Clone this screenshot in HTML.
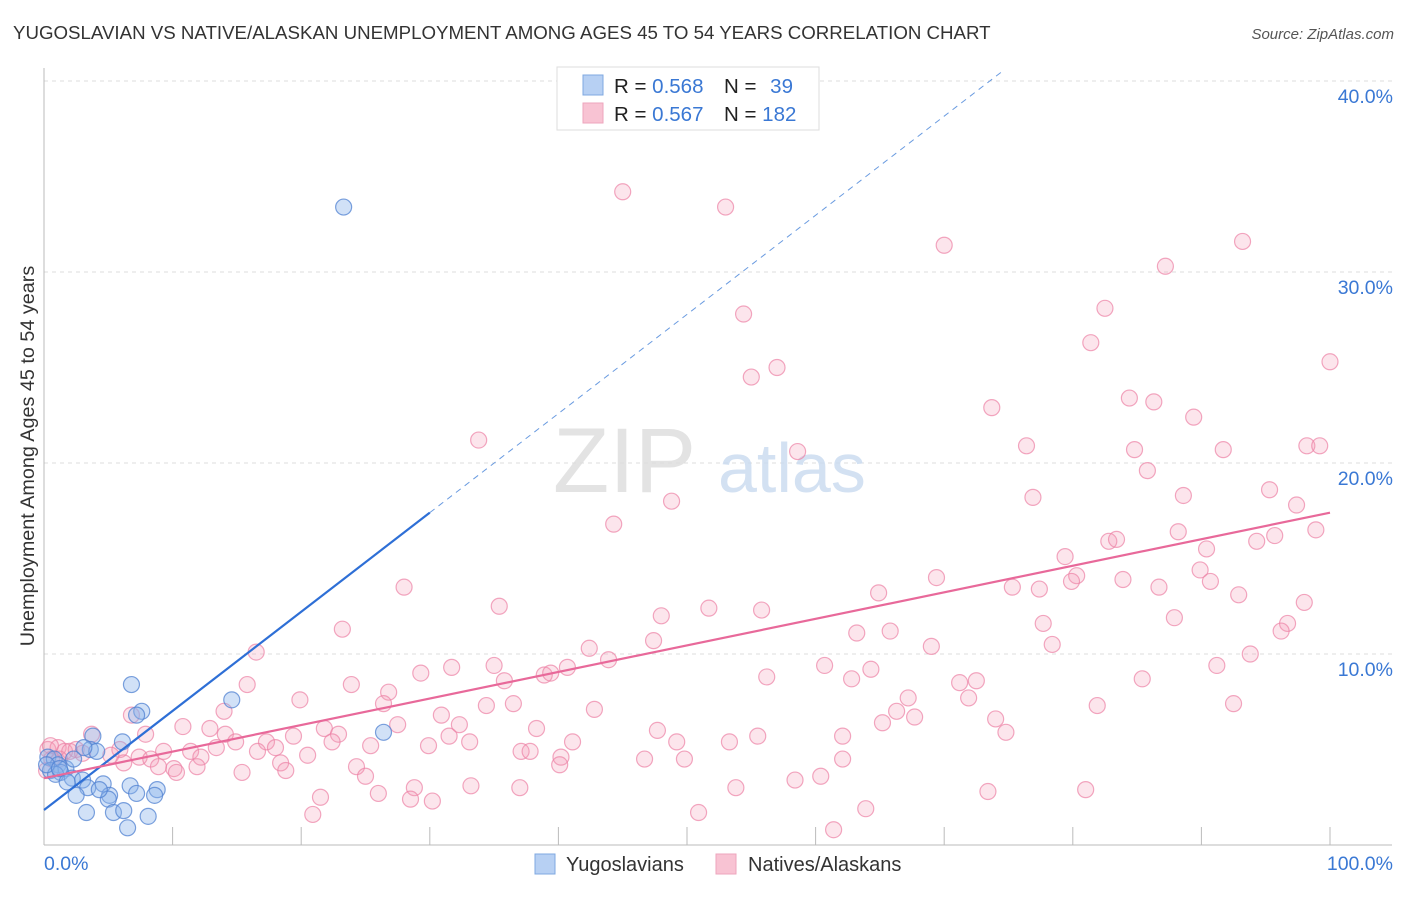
<!DOCTYPE html>
<html><head><meta charset="utf-8"><style>
body{margin:0;background:#fff;font-family:"Liberation Sans",sans-serif}
svg text{font-family:"Liberation Sans",sans-serif}
</style></head><body>
<svg id="chart" width="1406" height="892" xmlns="http://www.w3.org/2000/svg">
<text x="13" y="39" font-size="18.7" fill="#333">YUGOSLAVIAN VS NATIVE/ALASKAN UNEMPLOYMENT AMONG AGES 45 TO 54 YEARS CORRELATION CHART</text>
<text x="1394" y="39" font-size="15" fill="#555" text-anchor="end" font-style="italic">Source: ZipAtlas.com</text>
<g id="grid"></g>
<text x="553" y="492" font-size="92" fill="#ddd" font-family="Liberation Serif" opacity="0.8">ZIP</text>
<text x="718" y="492" font-size="70" fill="#c9daf0" opacity="0.8">atlas</text>
<g id="points"></g>
<g id="lines"></g>
<text transform="translate(34,456) rotate(-90)" font-size="19.8" fill="#333" text-anchor="middle">Unemployment Among Ages 45 to 54 years</text>
<g>
<rect x="557" y="67" width="262" height="63" fill="#fff" stroke="#ddd"/>
<rect x="583" y="75" width="20" height="20" fill="#b7d0f3" stroke="#7fa8e0"/>
<rect x="583" y="103" width="20" height="20" fill="#f8c3d3" stroke="#eea6bd"/>
<text x="614" y="93" font-size="20.5" fill="#222">R = <tspan fill="#3a78d4">0.568</tspan></text>
<text x="724" y="93" font-size="20.5" fill="#222">N = <tspan fill="#3a78d4" dx="8">39</tspan></text>
<text x="614" y="121" font-size="20.5" fill="#222">R = <tspan fill="#3a78d4">0.567</tspan></text>
<text x="724" y="121" font-size="20.5" fill="#222">N = <tspan fill="#3a78d4">182</tspan></text>
</g>
<g>
<rect x="535" y="854" width="20" height="20" fill="#b7d0f3" stroke="#7fa8e0"/>
<text x="566" y="871" font-size="20" fill="#333">Yugoslavians</text>
<rect x="716" y="854" width="20" height="20" fill="#f8c3d3" stroke="#eea6bd"/>
<text x="748" y="871" font-size="20" fill="#333">Natives/Alaskans</text>
</g>
</svg>
<script>
const xTicks=[0,10,20,30,40,50,60,70,80,90,100];
const yTicks=[10,20,30,40];
const yTickLabels=["10.0%","20.0%","30.0%","40.0%"];
const blueX=[23.3,6.8,14.6,7.6,7.2,3.8,26.4,6.1,3.6,4.1,0.3,0.8,1.1,1.7,0.5,1.3,0.9,2.2,3.0,1.8,4.6,3.4,6.7,2.5,5.1,7.2,8.8,8.6,5.0,3.3,5.4,6.2,8.1,6.5,0.2,1.2,3.1,4.3,2.3];
const blueY=[33.4,8.4,7.6,7.0,6.8,5.7,5.9,5.4,5.0,4.9,4.6,4.5,4.2,4.0,3.9,3.8,3.7,3.5,3.4,3.3,3.2,3.0,3.1,2.6,2.6,2.7,2.9,2.6,2.4,1.7,1.7,1.8,1.5,0.9,4.2,4.0,5.1,2.9,4.5];
const pinkX=[45.0,53.0,70.0,93.2,87.2,82.5,54.4,81.4,100,57.0,55.0,84.4,86.3,73.7,89.4,33.8,76.4,84.8,91.7,98.2,99.2,58.6,85.8,95.3,88.6,76.9,48.8,97.4,44.3,98.9,88.2,82.8,83.4,95.7,94.3,90.4,79.4,89.9,80.3,69.4,79.9,83.9,90.7,77.4,75.3,86.7,28.0,64.9,92.9,35.4,51.7,55.8,98.0,48.0,87.9,77.7,96.7,96.2,23.2,63.2,65.8,47.4,78.4,69.0,42.4,93.8,16.5,43.9,31.7,35.0,40.7,60.7,91.2,64.3,29.3,38.9,39.4,35.8,56.2,62.8,71.2,72.5,85.4,15.8,23.9,26.8,67.2,71.9,19.9,26.4,34.4,36.5,42.8,92.5,81.9,14.0,30.9,66.3,67.7,74.0,6.8,27.5,32.3,10.8,12.9,21.8,65.2,38.3,47.7,74.8,3.7,7.9,14.1,19.4,22.9,31.5,41.1,55.5,62.1,49.2,14.9,17.3,22.4,25.4,29.9,33.1,53.3,13.4,18.0,9.3,11.4,16.6,37.1,37.8,5.9,20.5,5.2,7.4,12.2,8.3,46.7,49.8,62.1,40.2,6.2,18.4,8.9,10.1,11.9,24.3,40.1,18.8,15.4,10.3,25.0,58.4,60.4,33.2,28.8,37.0,53.8,26.0,73.4,81.0,21.5,28.5,30.2,63.9,50.9,20.9,61.4,0.3,0.6,1.1,1.6,2.0,2.5,3.0,0.2,0.5,1.2];
const pinkY=[34.2,33.4,31.4,31.6,30.3,28.1,27.8,26.3,25.3,25.0,24.5,23.4,23.2,22.9,22.4,21.2,20.9,20.7,20.7,20.9,20.9,20.6,19.6,18.6,18.3,18.2,18.0,17.8,16.8,16.5,16.4,15.9,16.0,16.2,15.9,15.5,15.1,14.4,14.1,14.0,13.8,13.9,13.8,13.4,13.5,13.5,13.5,13.2,13.1,12.5,12.4,12.3,12.7,12.0,11.9,11.6,11.6,11.2,11.3,11.1,11.2,10.7,10.5,10.4,10.3,10.0,10.1,9.7,9.3,9.4,9.3,9.4,9.4,9.2,9.0,8.9,9.0,8.6,8.8,8.7,8.5,8.6,8.7,8.4,8.4,8.0,7.7,7.7,7.6,7.4,7.3,7.4,7.1,7.4,7.3,7.0,6.8,7.0,6.7,6.6,6.8,6.3,6.3,6.2,6.1,6.1,6.4,6.1,6.0,5.9,5.8,5.8,5.8,5.7,5.8,5.7,5.4,5.7,5.7,5.4,5.4,5.4,5.4,5.2,5.2,5.4,5.4,5.1,5.1,4.9,4.9,4.9,4.9,4.9,5.0,4.7,4.7,4.6,4.6,4.5,4.5,4.5,4.5,4.6,4.3,4.3,4.1,4.0,4.1,4.1,4.2,3.9,3.8,3.8,3.6,3.4,3.6,3.1,3.0,3.0,3.0,2.7,2.8,2.9,2.5,2.4,2.3,1.9,1.7,1.6,0.8,5.0,4.5,5.1,4.9,4.9,5.0,4.8,3.9,5.2,4.5];
const blueLine=[1.83,17.4];
const pinkLine=[3.5,17.4];
const X=v=>44+v*12.86, Y=v=>845-v*19.1;
const NS="http://www.w3.org/2000/svg";
function mk(t,a,p){const e=document.createElementNS(NS,t);for(const k in a)e.setAttribute(k,a[k]);p.appendChild(e);return e;}
const grid=document.getElementById('grid');
yTicks.forEach((t,i)=>{
 const l=mk('line',{x1:44,x2:1392,y1:Y(t),y2:Y(t),stroke:'#ddd','stroke-dasharray':'4,4'},grid);
 
 
 const tx=mk('text',{x:1393,y:Y(t)+22,'font-size':19.5,fill:'#3a78d4','text-anchor':'end'},grid);
 tx.textContent=yTickLabels[i];
 
 
});
const ax=mk('line',{x1:44,x2:44,y1:68,y2:845,stroke:'#bbb'},grid);


const bx=mk('line',{x1:44,x2:1392,y1:845,y2:845,stroke:'#bbb'},grid);


xTicks.forEach(t=>{
 const l=mk('line',{x1:X(t),x2:X(t),y1:827,y2:845,stroke:'#bbb'},grid);
 
 
});
const xl0=mk('text',{x:44,y:870,'font-size':19.5,fill:'#3a78d4'},grid);xl0.textContent='0.0%';


const xl1=mk('text',{x:1393,y:870,'font-size':19.5,fill:'#3a78d4','text-anchor':'end'},grid);xl1.textContent='100.0%';


const pts=document.getElementById('points');
pinkX.forEach((x,i)=>{const c=mk('circle',{cx:X(x),cy:Y(pinkY[i]),r:8,fill:'rgba(244,150,180,0.25)',stroke:'rgba(236,130,165,0.7)','stroke-width':1.2},pts);
 
 });
blueX.forEach((x,i)=>{const c=mk('circle',{cx:X(x),cy:Y(blueY[i]),r:8,fill:'rgba(140,180,235,0.4)',stroke:'rgba(80,130,210,0.75)','stroke-width':1.2},pts);
 
 });
const ln=document.getElementById('lines');
const bs=(blueLine[1]-blueLine[0])/30;
const b1=mk('line',{x1:X(0),y1:Y(blueLine[0]),x2:X(30),y2:Y(blueLine[1]),stroke:'#2e6fd6','stroke-width':2.2},ln);


const xe=(40.5-blueLine[0])/bs;
const b2=mk('line',{x1:X(30),y1:Y(blueLine[1]),x2:X(xe),y2:Y(40.5),stroke:'#6a9be0','stroke-width':1,'stroke-dasharray':'6,5'},ln);


const p1=mk('line',{x1:X(0),y1:Y(pinkLine[0]),x2:X(100),y2:Y(pinkLine[1]),stroke:'#e8699a','stroke-width':2.2},ln);


</script>
</body></html>
